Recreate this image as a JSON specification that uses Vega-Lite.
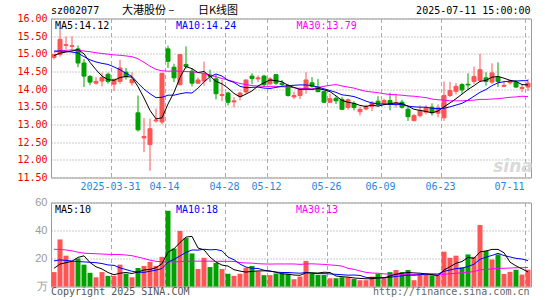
{
"$schema": "https://vega.github.io/schema/vega-lite/v6.json",
"background": "white",
"padding": {"left": 16, "top": 4.5, "right": 5, "bottom": 5},
"spacing": 25,
"bounds": "flush",
"config": {
  "view": {"stroke": "#999999", "strokeWidth": 1},
  "axis": {"labelFont": "DejaVu Sans Mono", "labelFontSize": 10, "ticks": false, "domain": false}
},
"resolve": {"scale": {"x": "shared", "y": "independent"}, "axis": {"x": "independent", "y": "independent"}},
"datasets": {"k": [
{"d":"2025-03-17","o":14.90,"h":15.00,"l":14.84,"c":14.98,"v":10.3,"m5":14.95,"m10":15.08,"m30":15.05,"vm5":13.0,"vm10":18.3,"vm30":26.6},
{"d":"2025-03-18","o":14.98,"h":15.73,"l":14.92,"c":15.41,"v":33.6,"m5":15.02,"m10":15.08,"m30":15.08,"vm5":16.0,"vm10":19.0,"vm30":26.4},
{"d":"2025-03-19","o":15.24,"h":15.49,"l":15.13,"c":15.26,"v":22.0,"m5":15.05,"m10":15.07,"m30":15.10,"vm5":17.0,"vm10":18.6,"vm30":26.1},
{"d":"2025-03-20","o":15.21,"h":15.50,"l":15.11,"c":15.23,"v":18.3,"m5":15.08,"m10":15.05,"m30":15.11,"vm5":18.0,"vm10":18.2,"vm30":25.5},
{"d":"2025-03-21","o":15.14,"h":15.24,"l":14.62,"c":14.74,"v":20.0,"m5":15.12,"m10":15.02,"m30":15.10,"vm5":20.8,"vm10":17.8,"vm30":24.5},
{"d":"2025-03-24","o":14.74,"h":14.85,"l":14.06,"c":14.37,"v":15.6,"m5":15.00,"m10":14.92,"m30":15.08,"vm5":21.9,"vm10":17.6,"vm30":23.8},
{"d":"2025-03-25","o":14.36,"h":14.40,"l":14.11,"c":14.20,"v":9.8,"m5":14.76,"m10":14.83,"m30":15.06,"vm5":17.1,"vm10":17.3,"vm30":23.6},
{"d":"2025-03-26","o":14.17,"h":14.34,"l":14.13,"c":14.22,"v":6.6,"m5":14.55,"m10":14.77,"m30":15.03,"vm5":14.1,"vm10":17.0,"vm30":23.4},
{"d":"2025-03-27","o":14.23,"h":14.47,"l":14.08,"c":14.33,"v":10.3,"m5":14.37,"m10":14.73,"m30":15.01,"vm5":12.5,"vm10":16.4,"vm30":23.2},
{"d":"2025-03-28","o":14.42,"h":14.47,"l":14.16,"c":14.22,"v":7.6,"m5":14.27,"m10":14.70,"m30":14.99,"vm5":10.0,"vm10":15.4,"vm30":23.0},
{"d":"2025-03-31","o":14.14,"h":14.29,"l":13.95,"c":14.28,"v":7.6,"m5":14.25,"m10":14.63,"m30":14.97,"vm5":8.4,"vm10":15.1,"vm30":22.9},
{"d":"2025-04-01","o":14.22,"h":14.83,"l":14.15,"c":14.60,"v":15.6,"m5":14.33,"m10":14.55,"m30":14.96,"vm5":9.5,"vm10":13.3,"vm30":22.8},
{"d":"2025-04-02","o":14.48,"h":14.60,"l":14.27,"c":14.35,"v":9.1,"m5":14.36,"m10":14.45,"m30":14.94,"vm5":10.0,"vm10":12.1,"vm30":22.5},
{"d":"2025-04-03","o":14.18,"h":14.48,"l":14.10,"c":14.27,"v":6.6,"m5":14.34,"m10":14.36,"m30":14.92,"vm5":9.3,"vm10":10.9,"vm30":22.0},
{"d":"2025-04-07","o":13.33,"h":13.82,"l":12.80,"c":12.85,"v":13.2,"m5":14.07,"m10":14.17,"m30":14.86,"vm5":10.4,"vm10":10.2,"vm30":21.0},
{"d":"2025-04-08","o":12.62,"h":13.18,"l":12.22,"c":12.66,"v":14.7,"m5":13.75,"m10":14.00,"m30":14.76,"vm5":11.8,"vm10":10.1,"vm30":20.0},
{"d":"2025-04-09","o":12.43,"h":13.17,"l":11.69,"c":12.88,"v":17.6,"m5":13.40,"m10":13.87,"m30":14.65,"vm5":12.2,"vm10":10.9,"vm30":18.8},
{"d":"2025-04-10","o":13.10,"h":13.45,"l":13.05,"c":13.13,"v":14.7,"m5":13.16,"m10":13.76,"m30":14.56,"vm5":13.4,"vm10":11.7,"vm30":18.0},
{"d":"2025-04-11","o":13.07,"h":14.46,"l":13.00,"c":14.45,"v":21.2,"m5":13.19,"m10":13.77,"m30":14.52,"vm5":16.3,"vm10":12.8,"vm30":17.7},
{"d":"2025-04-14","o":15.14,"h":15.23,"l":14.60,"c":14.79,"v":54.1,"m5":13.58,"m10":13.83,"m30":14.51,"vm5":24.5,"vm10":17.4,"vm30":17.6},
{"d":"2025-04-15","o":14.62,"h":14.72,"l":14.20,"c":14.32,"v":27.1,"m5":13.91,"m10":13.83,"m30":14.51,"vm5":26.9,"vm10":19.4,"vm30":17.6},
{"d":"2025-04-16","o":14.13,"h":14.99,"l":14.10,"c":14.98,"v":39.7,"m5":14.33,"m10":13.87,"m30":14.51,"vm5":31.4,"vm10":21.8,"vm30":17.8},
{"d":"2025-04-17","o":14.70,"h":15.21,"l":14.58,"c":14.64,"v":34.6,"m5":14.64,"m10":13.90,"m30":14.50,"vm5":35.3,"vm10":24.4,"vm30":18.0},
{"d":"2025-04-18","o":14.51,"h":14.60,"l":14.08,"c":14.17,"v":23.6,"m5":14.58,"m10":13.89,"m30":14.49,"vm5":35.8,"vm10":26.1,"vm30":18.1},
{"d":"2025-04-21","o":14.17,"h":14.33,"l":14.15,"c":14.26,"v":12.5,"m5":14.47,"m10":14.03,"m30":14.47,"vm5":27.5,"vm10":26.0,"vm30":18.1},
{"d":"2025-04-22","o":14.23,"h":14.78,"l":14.10,"c":14.43,"v":20.5,"m5":14.50,"m10":14.21,"m30":14.44,"vm5":26.2,"vm10":26.6,"vm30":18.1},
{"d":"2025-04-23","o":14.40,"h":14.55,"l":14.20,"c":14.36,"v":13.9,"m5":14.37,"m10":14.35,"m30":14.40,"vm5":21.0,"vm10":26.2,"vm30":18.1},
{"d":"2025-04-24","o":14.29,"h":14.41,"l":13.71,"c":13.87,"v":16.9,"m5":14.22,"m10":14.43,"m30":14.35,"vm5":17.5,"vm10":26.4,"vm30":18.0},
{"d":"2025-04-25","o":13.82,"h":14.26,"l":13.66,"c":13.85,"v":12.5,"m5":14.15,"m10":14.37,"m30":14.30,"vm5":15.3,"vm10":25.5,"vm30":18.0},
{"d":"2025-04-28","o":13.89,"h":13.93,"l":13.54,"c":13.63,"v":9.1,"m5":14.03,"m10":14.25,"m30":14.26,"vm5":14.6,"vm10":21.0,"vm30":18.0},
{"d":"2025-04-29","o":13.64,"h":13.77,"l":13.49,"c":13.67,"v":7.6,"m5":13.88,"m10":14.19,"m30":14.21,"vm5":12.0,"vm10":19.1,"vm30":17.9},
{"d":"2025-04-30","o":13.80,"h":13.93,"l":13.68,"c":13.89,"v":9.1,"m5":13.78,"m10":14.08,"m30":14.16,"vm5":11.0,"vm10":16.0,"vm30":17.1},
{"d":"2025-05-06","o":13.92,"h":14.27,"l":13.87,"c":14.26,"v":13.4,"m5":13.86,"m10":14.04,"m30":14.13,"vm5":10.3,"vm10":13.9,"vm30":16.8},
{"d":"2025-05-07","o":14.37,"h":14.45,"l":14.15,"c":14.30,"v":14.7,"m5":13.95,"m10":14.05,"m30":14.10,"vm5":10.8,"vm10":13.0,"vm30":16.7},
{"d":"2025-05-08","o":14.29,"h":14.39,"l":14.20,"c":14.32,"v":10.8,"m5":14.09,"m10":14.06,"m30":14.09,"vm5":11.1,"vm10":12.9,"vm30":16.3},
{"d":"2025-05-09","o":14.37,"h":14.41,"l":14.06,"c":14.13,"v":8.1,"m5":14.18,"m10":14.03,"m30":14.08,"vm5":11.2,"vm10":11.6,"vm30":16.1},
{"d":"2025-05-12","o":14.15,"h":14.34,"l":14.12,"c":14.29,"v":8.1,"m5":14.26,"m10":14.02,"m30":14.08,"vm5":11.0,"vm10":11.0,"vm30":16.0},
{"d":"2025-05-13","o":14.41,"h":14.43,"l":14.12,"c":14.17,"v":9.3,"m5":14.24,"m10":14.05,"m30":14.08,"vm5":10.2,"vm10":10.3,"vm30":16.1},
{"d":"2025-05-14","o":14.17,"h":14.26,"l":14.07,"c":14.13,"v":9.3,"m5":14.21,"m10":14.08,"m30":14.07,"vm5":9.1,"vm10":10.0,"vm30":16.1},
{"d":"2025-05-15","o":14.10,"h":14.15,"l":13.79,"c":13.82,"v":9.1,"m5":14.11,"m10":14.10,"m30":14.06,"vm5":8.8,"vm10":10.0,"vm30":16.1},
{"d":"2025-05-16","o":13.78,"h":13.93,"l":13.72,"c":13.82,"v":5.2,"m5":14.05,"m10":14.11,"m30":14.04,"vm5":8.2,"vm10":9.7,"vm30":16.1},
{"d":"2025-05-19","o":13.82,"h":14.05,"l":13.72,"c":13.99,"v":7.1,"m5":13.99,"m10":14.12,"m30":14.02,"vm5":8.0,"vm10":9.5,"vm30":15.8},
{"d":"2025-05-20","o":14.01,"h":14.48,"l":13.87,"c":14.26,"v":18.3,"m5":14.00,"m10":14.12,"m30":14.02,"vm5":9.8,"vm10":10.0,"vm30":16.1},
{"d":"2025-05-21","o":14.18,"h":14.34,"l":14.04,"c":14.08,"v":9.1,"m5":13.99,"m10":14.10,"m30":14.01,"vm5":9.8,"vm10":9.4,"vm30":16.2},
{"d":"2025-05-22","o":14.06,"h":14.29,"l":13.91,"c":13.93,"v":8.3,"m5":14.02,"m10":14.06,"m30":14.05,"vm5":9.6,"vm10":9.2,"vm30":16.0},
{"d":"2025-05-23","o":13.93,"h":13.96,"l":13.61,"c":13.63,"v":8.3,"m5":13.98,"m10":14.01,"m30":14.08,"vm5":10.2,"vm10":9.2,"vm30":15.8},
{"d":"2025-05-26","o":13.63,"h":13.87,"l":13.61,"c":13.73,"v":5.9,"m5":13.93,"m10":13.96,"m30":14.11,"vm5":10.0,"vm10":9.0,"vm30":15.4},
{"d":"2025-05-27","o":13.74,"h":13.80,"l":13.58,"c":13.67,"v":5.9,"m5":13.81,"m10":13.91,"m30":14.13,"vm5":7.5,"vm10":8.7,"vm30":15.1},
{"d":"2025-05-28","o":13.71,"h":13.78,"l":13.42,"c":13.43,"v":6.6,"m5":13.68,"m10":13.84,"m30":14.09,"vm5":7.0,"vm10":8.4,"vm30":14.6},
{"d":"2025-05-29","o":13.48,"h":13.73,"l":13.42,"c":13.70,"v":6.6,"m5":13.63,"m10":13.82,"m30":14.06,"vm5":6.7,"vm10":8.1,"vm30":13.0},
{"d":"2025-05-30","o":13.59,"h":13.66,"l":13.40,"c":13.48,"v":5.4,"m5":13.60,"m10":13.79,"m30":14.03,"vm5":6.1,"vm10":8.2,"vm30":12.3},
{"d":"2025-06-03","o":13.36,"h":13.50,"l":13.26,"c":13.43,"v":4.5,"m5":13.54,"m10":13.73,"m30":13.98,"vm5":5.8,"vm10":7.9,"vm30":11.1},
{"d":"2025-06-04","o":13.44,"h":13.56,"l":13.40,"c":13.51,"v":4.5,"m5":13.51,"m10":13.66,"m30":13.94,"vm5":5.5,"vm10":6.5,"vm30":10.1},
{"d":"2025-06-05","o":13.51,"h":13.66,"l":13.38,"c":13.61,"v":7.1,"m5":13.55,"m10":13.61,"m30":13.92,"vm5":5.6,"vm10":6.3,"vm30":9.6},
{"d":"2025-06-06","o":13.66,"h":13.80,"l":13.51,"c":13.57,"v":9.1,"m5":13.52,"m10":13.58,"m30":13.90,"vm5":6.1,"vm10":6.4,"vm30":9.5},
{"d":"2025-06-09","o":13.59,"h":13.73,"l":13.55,"c":13.68,"v":5.9,"m5":13.56,"m10":13.58,"m30":13.87,"vm5":6.2,"vm10":6.2,"vm30":9.0},
{"d":"2025-06-10","o":13.68,"h":13.90,"l":13.40,"c":13.57,"v":10.3,"m5":13.59,"m10":13.57,"m30":13.85,"vm5":7.4,"vm10":6.6,"vm30":8.9},
{"d":"2025-06-11","o":13.59,"h":13.87,"l":13.48,"c":13.62,"v":11.8,"m5":13.61,"m10":13.56,"m30":13.84,"vm5":8.8,"vm10":7.2,"vm30":8.7},
{"d":"2025-06-12","o":13.63,"h":13.70,"l":13.45,"c":13.49,"v":10.3,"m5":13.59,"m10":13.57,"m30":13.83,"vm5":9.5,"vm10":7.6,"vm30":8.6},
{"d":"2025-06-13","o":13.43,"h":13.50,"l":13.10,"c":13.22,"v":11.8,"m5":13.52,"m10":13.52,"m30":13.81,"vm5":10.0,"vm10":8.1,"vm30":8.7},
{"d":"2025-06-16","o":13.11,"h":13.30,"l":13.09,"c":13.25,"v":4.5,"m5":13.43,"m10":13.50,"m30":13.80,"vm5":9.7,"vm10":8.0,"vm30":8.6},
{"d":"2025-06-17","o":13.25,"h":13.54,"l":13.20,"c":13.40,"v":9.1,"m5":13.40,"m10":13.49,"m30":13.78,"vm5":9.5,"vm10":8.4,"vm30":8.6},
{"d":"2025-06-18","o":13.35,"h":13.54,"l":13.29,"c":13.47,"v":9.1,"m5":13.37,"m10":13.49,"m30":13.76,"vm5":9.0,"vm10":8.9,"vm30":8.5},
{"d":"2025-06-19","o":13.49,"h":13.60,"l":13.25,"c":13.33,"v":7.9,"m5":13.33,"m10":13.46,"m30":13.72,"vm5":8.5,"vm10":9.0,"vm30":8.2},
{"d":"2025-06-20","o":13.32,"h":13.57,"l":13.20,"c":13.47,"v":7.9,"m5":13.38,"m10":13.45,"m30":13.70,"vm5":7.7,"vm10":8.9,"vm30":8.2},
{"d":"2025-06-23","o":13.19,"h":14.22,"l":13.10,"c":13.82,"v":24.9,"m5":13.50,"m10":13.46,"m30":13.69,"vm5":11.8,"vm10":10.8,"vm30":8.7},
{"d":"2025-06-24","o":13.82,"h":14.20,"l":13.78,"c":13.96,"v":20.5,"m5":13.61,"m10":13.50,"m30":13.67,"vm5":14.1,"vm10":11.8,"vm30":9.1},
{"d":"2025-06-25","o":13.94,"h":14.17,"l":13.85,"c":14.08,"v":22.0,"m5":13.73,"m10":13.55,"m30":13.67,"vm5":16.6,"vm10":12.8,"vm30":9.5},
{"d":"2025-06-26","o":14.13,"h":14.17,"l":13.87,"c":13.98,"v":13.7,"m5":13.86,"m10":13.60,"m30":13.67,"vm5":17.8,"vm10":13.1,"vm30":9.7},
{"d":"2025-06-27","o":14.14,"h":14.45,"l":13.98,"c":14.12,"v":22.9,"m5":13.99,"m10":13.69,"m30":13.68,"vm5":20.8,"vm10":14.3,"vm30":10.2},
{"d":"2025-06-30","o":14.22,"h":14.64,"l":14.15,"c":14.36,"v":21.2,"m5":14.10,"m10":13.80,"m30":13.69,"vm5":20.1,"vm10":15.9,"vm30":10.7},
{"d":"2025-07-01","o":14.25,"h":15.00,"l":14.20,"c":14.55,"v":43.9,"m5":14.22,"m10":13.91,"m30":13.71,"vm5":24.7,"vm10":19.4,"vm30":11.9},
{"d":"2025-07-02","o":14.32,"h":14.48,"l":14.10,"c":14.22,"v":25.4,"m5":14.25,"m10":13.99,"m30":13.71,"vm5":25.4,"vm10":21.0,"vm30":12.2},
{"d":"2025-07-03","o":14.20,"h":14.73,"l":14.15,"c":14.46,"v":19.3,"m5":14.34,"m10":14.10,"m30":13.72,"vm5":26.5,"vm10":22.2,"vm30":12.5},
{"d":"2025-07-04","o":14.34,"h":14.76,"l":14.06,"c":14.22,"v":22.9,"m5":14.36,"m10":14.18,"m30":13.73,"vm5":26.5,"vm10":23.7,"vm30":13.0},
{"d":"2025-07-07","o":14.08,"h":14.24,"l":14.06,"c":14.11,"v":9.0,"m5":14.31,"m10":14.21,"m30":13.75,"vm5":24.1,"vm10":22.1,"vm30":13.0},
{"d":"2025-07-08","o":14.18,"h":14.27,"l":14.13,"c":14.23,"v":10.5,"m5":14.25,"m10":14.23,"m30":13.77,"vm5":17.4,"vm10":21.1,"vm30":13.2},
{"d":"2025-07-09","o":14.20,"h":14.25,"l":14.03,"c":14.06,"v":12.0,"m5":14.22,"m10":14.23,"m30":13.78,"vm5":14.7,"vm10":20.1,"vm30":13.4},
{"d":"2025-07-10","o":14.02,"h":14.14,"l":13.92,"c":14.05,"v":8.5,"m5":14.13,"m10":14.24,"m30":13.80,"vm5":12.6,"vm10":19.6,"vm30":13.4},
{"d":"2025-07-11","o":14.06,"h":14.29,"l":13.95,"c":14.17,"v":12.0,"m5":14.12,"m10":14.24,"m30":13.79,"vm5":10.4,"vm10":18.5,"vm30":13.6}
]},
"vconcat": [
{
  "width": 480, "height": 159,
  "data": {"name": "k"},
  "encoding": {
    "x": {"field": "d", "type": "ordinal",
      "scale": {"type": "band", "paddingInner": 0, "paddingOuter": 0},
      "axis": {"title": null, "values": ["2025-03-31","2025-04-14","2025-04-28","2025-05-12","2025-05-26","2025-06-09","2025-06-23","2025-07-11"],
        "bandPosition": 0, "labelAngle": 0, "labelOffset": -3.5,
        "labelExpr": "datum.value == '2025-03-31' ? datum.value : substring(datum.value, 5)",
        "labelColor": "#1e88e5", "labelPadding": 4, "labelFlush": 10, "labelOverlap": false, "labelBound": false,
        "grid": true, "gridDash": [4, 3], "gridColor": "#aaaaaa", "gridWidth": 1}}
  },
  "layer": [
    {"data": {"values": [{"t": "sina"}]},
     "mark": {"type": "text", "align": "center", "baseline": "middle", "font": "DejaVu Sans", "fontSize": 17, "fontStyle": "italic", "fontWeight": "bold", "color": "#d9d9d9", "dx": -3},
     "encoding": {"x": {"datum": "2025-07-09", "type": "ordinal"}, "y": {"datum": 11.8, "type": "quantitative"}, "text": {"field": "t"}}},
    {"mark": {"type": "rule", "strokeWidth": 1},
     "encoding": {
       "y": {"field": "l", "type": "quantitative", "scale": {"domain": [11.5, 16], "nice": false, "zero": false},
         "axis": {"title": null, "values": [11.5, 12, 12.5, 13, 13.5, 14, 14.5, 15, 15.5, 16], "tickCount": 20, "format": ".2f",
           "labelColor": "#ee0000", "labelPadding": 4, "labelOverlap": false, "labelBound": false,
           "grid": true, "gridDash": [1, 2], "gridColor": "#999999", "gridWidth": 1}},
       "y2": {"field": "h"},
       "color": {"condition": {"test": "datum.c >= datum.o", "value": "#ff5555"}, "value": "#00a000"}}},
    {"mark": {"type": "bar", "size": 4, "strokeWidth": 1},
     "encoding": {
       "y": {"field": "o", "type": "quantitative"},
       "y2": {"field": "c"},
       "color": {"condition": {"test": "datum.c >= datum.o", "value": "#ff5555"}, "value": "#00a000"},
       "stroke": {"condition": {"test": "datum.c >= datum.o", "value": "#ff5555"}, "value": "#00a000"}}},
    {"mark": {"type": "line", "color": "#ff00ff", "strokeWidth": 1}, "encoding": {"y": {"field": "m30", "type": "quantitative"}}},
    {"mark": {"type": "line", "color": "#0000ff", "strokeWidth": 1}, "encoding": {"y": {"field": "m10", "type": "quantitative"}}},
    {"mark": {"type": "line", "color": "#000000", "strokeWidth": 1}, "encoding": {"y": {"field": "m5", "type": "quantitative"}}},
    {"data": {"values": [{"t": "MA5:14.12"}]},
     "mark": {"type": "text", "align": "left", "baseline": "middle", "font": "DejaVu Sans Mono", "fontSize": 10, "color": "#000000", "dx": 1},
     "encoding": {"x": {"datum": "2025-03-17", "type": "ordinal"}, "y": {"datum": 15.8, "type": "quantitative"}, "text": {"field": "t"}}},
    {"data": {"values": [{"t": "MA10:14.24"}]},
     "mark": {"type": "text", "align": "left", "baseline": "middle", "font": "DejaVu Sans Mono", "fontSize": 10, "color": "#0000ff", "dx": 2},
     "encoding": {"x": {"datum": "2025-04-15", "type": "ordinal"}, "y": {"datum": 15.8, "type": "quantitative"}, "text": {"field": "t"}}},
    {"data": {"values": [{"t": "MA30:13.79"}]},
     "mark": {"type": "text", "align": "left", "baseline": "middle", "font": "DejaVu Sans Mono", "fontSize": 10, "color": "#ff00ff", "dx": 2.5},
     "encoding": {"x": {"datum": "2025-05-16", "type": "ordinal"}, "y": {"datum": 15.8, "type": "quantitative"}, "text": {"field": "t"}}},
    {"data": {"values": [{"t": "sz002077"}]},
     "mark": {"type": "text", "align": "left", "baseline": "middle", "font": "DejaVu Sans Mono", "fontSize": 10, "color": "#000000", "dx": -3},
     "encoding": {"x": {"datum": "2025-03-17", "type": "ordinal"}, "y": {"datum": 16.2, "type": "quantitative"}, "text": {"field": "t"}}},
    {"data": {"values": [{"t": "大港股份   –"}]},
     "mark": {"type": "text", "align": "left", "baseline": "middle", "font": "Noto Sans CJK SC", "fontSize": 11, "color": "#000000", "dx": 2},
     "encoding": {"x": {"datum": "2025-04-01", "type": "ordinal"}, "y": {"datum": 16.2, "type": "quantitative"}, "text": {"field": "t"}}},
    {"data": {"values": [{"t": "日K线图"}]},
     "mark": {"type": "text", "align": "left", "baseline": "middle", "font": "Noto Sans CJK SC", "fontSize": 11, "color": "#000000", "dx": 0},
     "encoding": {"x": {"datum": "2025-04-21", "type": "ordinal"}, "y": {"datum": 16.2, "type": "quantitative"}, "text": {"field": "t"}}},
    {"data": {"values": [{"t": "2025-07-11 15:00:00"}]},
     "mark": {"type": "text", "align": "right", "baseline": "middle", "font": "DejaVu Sans Mono", "fontSize": 10, "color": "#000000", "dx": 2.5},
     "encoding": {"x": {"datum": "2025-07-11", "type": "ordinal"}, "y": {"datum": 16.2, "type": "quantitative"}, "text": {"field": "t"}}}
  ]
},
{
  "width": 480, "height": 84,
  "data": {"name": "k"},
  "encoding": {
    "x": {"field": "d", "type": "ordinal",
      "scale": {"type": "band", "paddingInner": 0, "paddingOuter": 0},
      "axis": {"title": null, "values": ["2025-03-31","2025-04-14","2025-04-28","2025-05-12","2025-05-26","2025-06-09","2025-06-23","2025-07-11"],
        "bandPosition": 0, "labels": false,
        "grid": true, "gridDash": [4, 3], "gridColor": "#aaaaaa", "gridWidth": 1}}
  },
  "layer": [
    {"mark": {"type": "bar", "size": 5},
     "encoding": {
       "y": {"field": "v", "type": "quantitative", "scale": {"domain": [0, 60], "nice": false},
         "axis": {"title": null, "values": [0, 20, 40, 60], "tickCount": 20, "labelExpr": "datum.value == 0 ? '万' : datum.label",
           "labelFont": "Liberation Sans", "labelFontSize": 11, "labelColor": "#9a9a9a", "labelPadding": 4,
           "labelOverlap": false, "labelBound": false,
           "grid": true, "gridDash": [1, 2], "gridColor": "#999999", "gridWidth": 1}},
       "color": {"condition": {"test": "datum.c >= datum.o", "value": "#ff5555"}, "value": "#00a000"}}},
    {"mark": {"type": "line", "color": "#ff00ff", "strokeWidth": 1}, "encoding": {"y": {"field": "vm30", "type": "quantitative"}}},
    {"mark": {"type": "line", "color": "#0000ff", "strokeWidth": 1}, "encoding": {"y": {"field": "vm10", "type": "quantitative"}}},
    {"mark": {"type": "line", "color": "#000000", "strokeWidth": 1}, "encoding": {"y": {"field": "vm5", "type": "quantitative"}}},
    {"data": {"values": [{"t": "MA5:10"}]},
     "mark": {"type": "text", "align": "left", "baseline": "middle", "font": "DejaVu Sans Mono", "fontSize": 10, "color": "#000000", "dx": 1},
     "encoding": {"x": {"datum": "2025-03-17", "type": "ordinal"}, "y": {"datum": 54.3, "type": "quantitative"}, "text": {"field": "t"}}},
    {"data": {"values": [{"t": "MA10:18"}]},
     "mark": {"type": "text", "align": "left", "baseline": "middle", "font": "DejaVu Sans Mono", "fontSize": 10, "color": "#0000ff", "dx": 2},
     "encoding": {"x": {"datum": "2025-04-15", "type": "ordinal"}, "y": {"datum": 54.3, "type": "quantitative"}, "text": {"field": "t"}}},
    {"data": {"values": [{"t": "MA30:13"}]},
     "mark": {"type": "text", "align": "left", "baseline": "middle", "font": "DejaVu Sans Mono", "fontSize": 10, "color": "#ff00ff", "dx": 2},
     "encoding": {"x": {"datum": "2025-05-16", "type": "ordinal"}, "y": {"datum": 54.3, "type": "quantitative"}, "text": {"field": "t"}}},
    {"data": {"values": [{"t": "Copyright 2025 SINA.COM"}]},
     "mark": {"type": "text", "align": "left", "baseline": "middle", "font": "DejaVu Sans Mono", "fontSize": 10, "color": "#555555", "dx": -3},
     "encoding": {"x": {"datum": "2025-03-17", "type": "ordinal"}, "y": {"datum": -4.2, "type": "quantitative"}, "text": {"field": "t"}}},
    {"data": {"values": [{"t": "http://finance.sina.com.cn"}]},
     "mark": {"type": "text", "align": "right", "baseline": "middle", "font": "DejaVu Sans Mono", "fontSize": 10, "color": "#666666", "dx": 1.5},
     "encoding": {"x": {"datum": "2025-07-11", "type": "ordinal"}, "y": {"datum": -4.2, "type": "quantitative"}, "text": {"field": "t"}}}
  ]
}
]
}
